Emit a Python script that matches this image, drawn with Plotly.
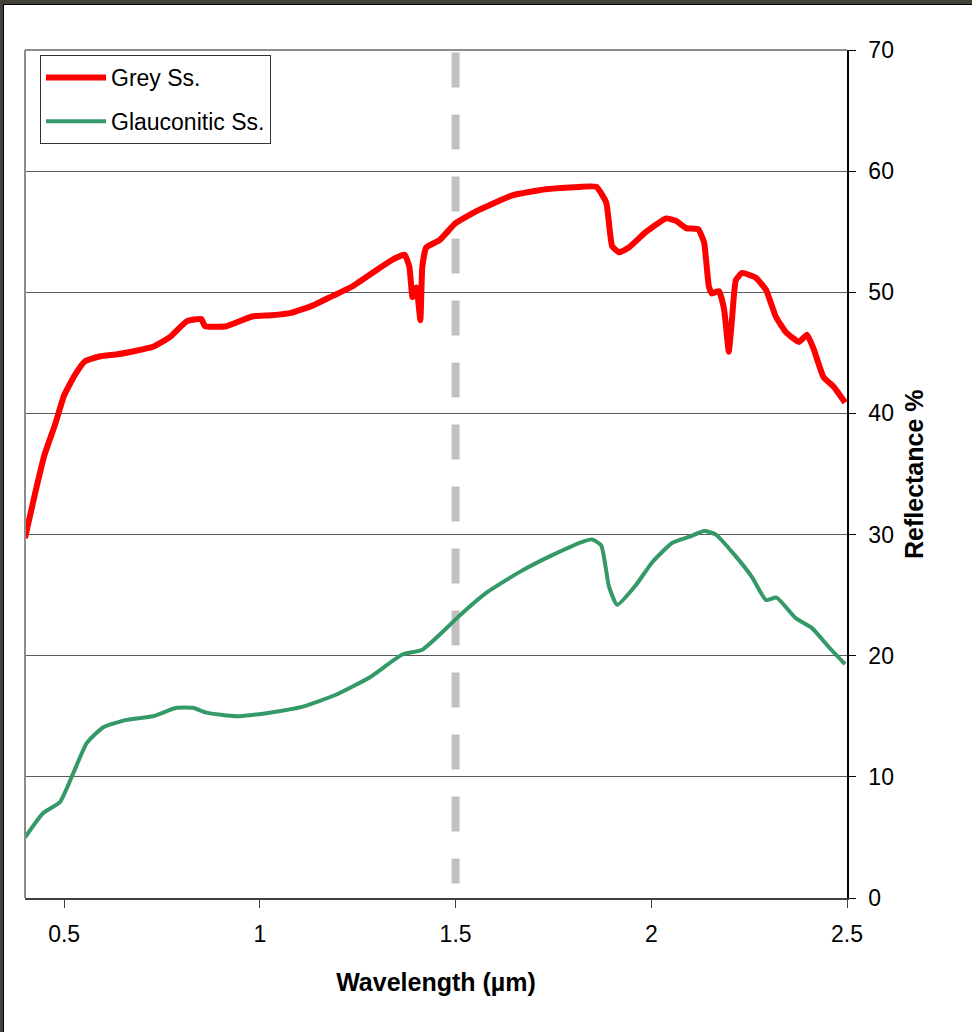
import plotly.graph_objects as go

# ---------------- data ----------------
wl_grey = [0.40, 0.425, 0.45, 0.477, 0.50, 0.528, 0.553, 0.59, 0.64, 0.727, 0.77, 0.813, 0.85,
           0.86, 0.915, 0.98, 1.03, 1.08, 1.135, 1.186, 1.237, 1.306, 1.339, 1.37, 1.382, 1.39,
           1.40, 1.41, 1.415, 1.425, 1.459, 1.50, 1.56, 1.645, 1.73, 1.816, 1.86, 1.885, 1.90,
           1.918, 1.943, 1.987, 2.038, 2.063, 2.089, 2.12, 2.135, 2.147, 2.155, 2.173, 2.186,
           2.198, 2.206, 2.216, 2.232, 2.267, 2.293, 2.318, 2.344, 2.377, 2.398, 2.415, 2.44,
           2.466, 2.495]
refl_grey = [29.7, 33.3, 36.6, 39.1, 41.5, 43.2, 44.3, 44.7, 44.9, 45.5, 46.3, 47.6, 47.8,
             47.2, 47.2, 48.0, 48.1, 48.3, 48.9, 49.7, 50.5, 52.0, 52.7, 53.1, 52.1, 49.6,
             50.4, 47.7, 52.1, 53.7, 54.3, 55.7, 56.8, 58.0, 58.5, 58.7, 58.7, 57.4, 53.8,
             53.3, 53.7, 55.0, 56.1, 55.9, 55.3, 55.2, 54.1, 50.5, 49.9, 50.1, 48.6,
             45.1, 47.7, 51.0, 51.6, 51.2, 50.2, 48.0, 46.7, 45.9, 46.5, 45.3, 43.0,
             42.2, 40.9]

wl_glauc = [0.40, 0.446, 0.489, 0.522, 0.558, 0.60, 0.66, 0.727, 0.787, 0.829, 0.864, 0.94,
            1.025, 1.11, 1.196, 1.28, 1.364, 1.415, 1.484, 1.50, 1.579, 1.663, 1.747, 1.824,
            1.849, 1.872, 1.892, 1.913, 1.96, 2.002, 2.053, 2.096, 2.135, 2.165, 2.216,
            2.257, 2.293, 2.32, 2.369, 2.41, 2.454, 2.495]
refl_glauc = [5.0, 7.0, 7.9, 10.2, 12.8, 14.1, 14.7, 15.0, 15.7, 15.7, 15.3, 15.0,
              15.3, 15.8, 16.8, 18.2, 20.1, 20.5, 22.5, 23.0, 25.2, 26.9, 28.3, 29.4,
              29.6, 29.1, 25.7, 24.2, 25.8, 27.7, 29.3, 29.8, 30.3, 30.0, 28.2,
              26.5, 24.6, 24.8, 23.1, 22.3, 20.7, 19.3]

marker_wavelength = [1.5, 1.5]
marker_span = [69.8, 1.2]

x_ticks = [0.5, 1, 1.5, 2, 2.5]
x_ticktext = ["0.5", "1", "1.5", "2", "2.5"]
y_ticks = [0, 10, 20, 30, 40, 50, 60, 70]

FONT = "Liberation Sans, Arial, sans-serif"

# ---------------- figure ----------------
W, H = 972, 1032
ML, MR, MT, MB = 25, 125, 50, 134
PW, PH = W - ML - MR, H - MT - MB


def px_x(p):
    return (p - ML) / PW


def px_y(p):
    return 1 - (p - MT) / PH


fig = go.Figure()

fig.add_trace(go.Scatter(
    x=marker_wavelength, y=marker_span, mode="lines", showlegend=False,
    line=dict(color="#c0c0c0", width=8, dash="35px,27px"), hoverinfo="skip"))

fig.add_trace(go.Scatter(
    x=wl_grey, y=refl_grey, mode="lines", name="Grey Ss.", legendgroup="a",
    line=dict(color="#ff0000", width=6, shape="spline", smoothing=0.4)))

fig.add_trace(go.Scatter(
    x=wl_glauc, y=refl_glauc, mode="lines", name="Glauconitic Ss.", legendgroup="b",
    line=dict(color="#339966", width=4, shape="spline", smoothing=0.5)))

shapes = [
    # plot-area frame (top, left) in grey
    dict(type="line", xref="paper", yref="paper", x0=0, x1=1, y0=1, y1=1,
         line=dict(color="#8c8c8c", width=2)),
    dict(type="line", xref="paper", yref="paper", x0=0, x1=0, y0=0, y1=1,
         line=dict(color="#8c8c8c", width=2)),
    # dark window border (top and left)
    dict(type="rect", xref="paper", yref="paper", x0=px_x(0), x1=px_x(W), y0=px_y(4), y1=px_y(0),
         line=dict(width=0), fillcolor="#45413b", layer="above"),
    dict(type="rect", xref="paper", yref="paper", x0=px_x(0), x1=px_x(3), y0=px_y(H), y1=px_y(0),
         line=dict(width=0), fillcolor="#45413b", layer="above"),
    dict(type="line", xref="paper", yref="paper", x0=px_x(3), x1=px_x(W), y0=px_y(4.5), y1=px_y(4.5),
         line=dict(color="#000000", width=1), layer="above"),
    dict(type="line", xref="paper", yref="paper", x0=px_x(3.5), x1=px_x(3.5), y0=px_y(H), y1=px_y(4),
         line=dict(color="#000000", width=1), layer="above"),
]

annotations = [
    dict(text="<b>Reflectance %</b>", xref="paper", yref="paper",
         x=px_x(914), y=0.5, xanchor="center", yanchor="middle",
         textangle=-90, showarrow=False,
         font=dict(family=FONT, size=25, color="black")),
]

fig.update_layout(
    width=W, height=H,
    margin=dict(l=ML, r=MR, t=MT, b=MB),
    paper_bgcolor="white", plot_bgcolor="white",
    font=dict(family=FONT, size=23, color="black"),
    showlegend=True,
    legend=dict(
        x=px_x(40), y=px_y(55), xanchor="left", yanchor="top",
        bgcolor="white", bordercolor="#333333", borderwidth=1,
        font=dict(family=FONT, size=23, color="black"),
        tracegroupgap=11, itemwidth=60,
    ),
    xaxis=dict(
        range=[0.4, 2.5], tickvals=x_ticks, ticktext=x_ticktext,
        showgrid=False, zeroline=False,
        showline=True, linecolor="#404040", linewidth=2,
        ticks="outside", ticklen=8, tickcolor="#404040", tickwidth=1,
        ticklabelstandoff=6,
        tickfont=dict(family=FONT, size=23, color="black"),
        title=dict(text="<b>Wavelength (µm)</b>", standoff=28,
                   font=dict(family=FONT, size=25, color="black")),
    ),
    yaxis=dict(
        range=[0, 70], tickvals=y_ticks, side="right",
        showgrid=True, gridcolor="#5a5a5a", gridwidth=1, zeroline=False,
        showline=True, linecolor="#000000", linewidth=1.5,
        ticks="outside", ticklen=7, tickcolor="#000000", tickwidth=1,
        ticklabelstandoff=8,
        tickfont=dict(family=FONT, size=23, color="black"),
    ),
    annotations=annotations,
    shapes=shapes,
)

fig.write_html("out.html")
